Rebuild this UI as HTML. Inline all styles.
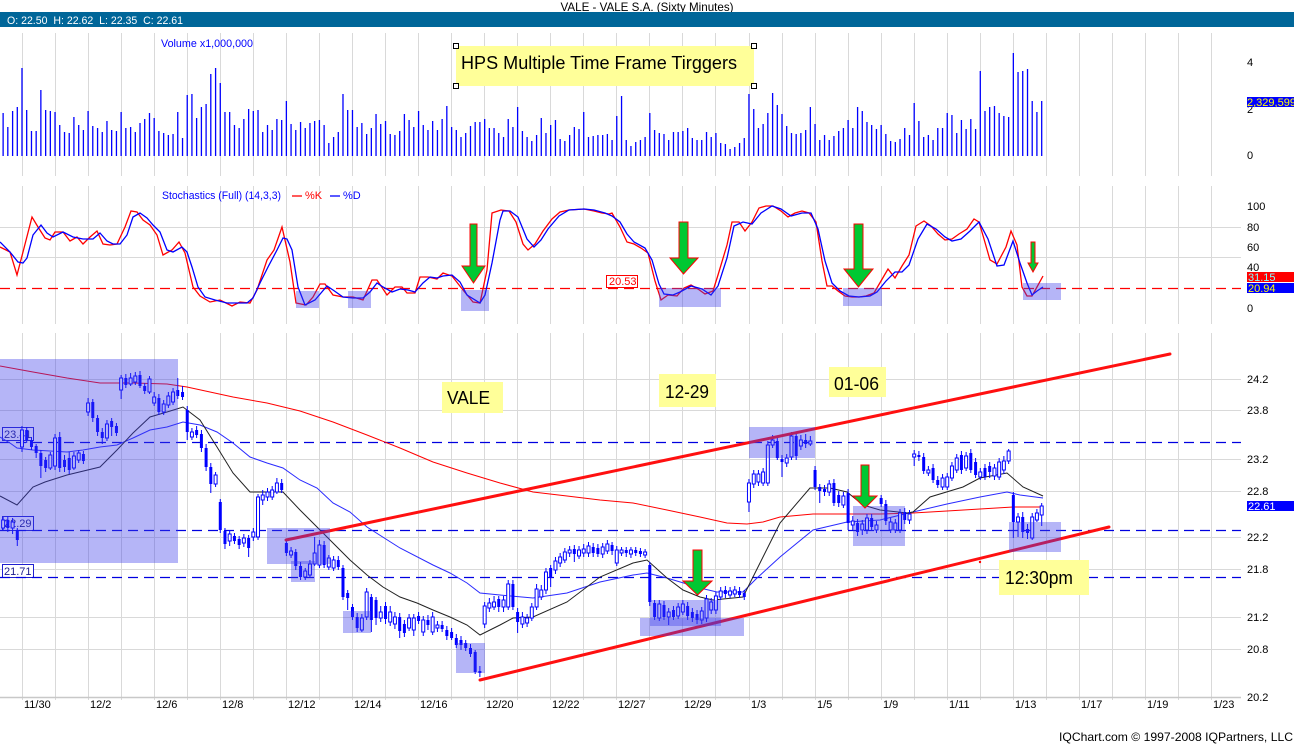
<!DOCTYPE html>
<html><head><meta charset="utf-8"><style>html,body{margin:0;padding:0;background:#fff}svg{display:block}</style></head>
<body>
<svg width="1294" height="744" viewBox="0 0 1294 744" xmlns="http://www.w3.org/2000/svg" font-family="'Liberation Sans', Arial, sans-serif">
<rect width="1294" height="744" fill="#fff"/>
<!-- header -->
<text x="647" y="11" font-size="12" text-anchor="middle" fill="#000" textLength="173" lengthAdjust="spacingAndGlyphs">VALE - VALE S.A. (Sixty Minutes)</text>
<rect x="0" y="12" width="1294" height="15" fill="#006699"/>
<text x="7" y="24" font-size="11" fill="#fff" xml:space="preserve" textLength="176" lengthAdjust="spacingAndGlyphs">O: 22.50  H: 22.62  L: 22.35  C: 22.61</text>

<!-- vertical gridlines -->
<path stroke="#d9d9d9" stroke-width="1" fill="none" d="M22.5 33V700M55.5 33V700M88.5 33V700M121.5 33V700M154.5 33V700M187.5 33V700M220.5 33V700M253.5 33V700M286.5 33V700M319.5 33V700M352.5 33V700M385.5 33V700M418.5 33V700M451.5 33V700M484.5 33V700M517.5 33V700M550.5 33V700M583.5 33V700M616.5 33V700M649.5 33V700M682.5 33V700M715.5 33V700M749.5 33V700M782.5 33V700M815.5 33V700M848.5 33V700M881.5 33V700M914.5 33V700M947.5 33V700M980.5 33V700M1013.5 33V700M1046.5 33V700M1079.5 33V700M1112.5 33V700M1145.5 33V700M1178.5 33V700M1211.5 33V700"/>
<rect x="0" y="176" width="1242" height="10" fill="#fff"/>
<rect x="0" y="324" width="1242" height="9" fill="#fff"/>
<!-- horizontal gridlines -->
<path stroke="#d9d9d9" stroke-width="1" fill="none" d="M0 227.5H1241M0 257.5H1241M0 379.5H1241M0 410.5H1241M0 459.5H1241M0 491.5H1241M0 537.5H1241M0 569.5H1241M0 617.5H1241M0 649.5H1241"/>
<path stroke="#c8c8c8" stroke-width="1.5" d="M0 697.5H1241"/>

<!-- left labels -->
<g font-size="11" fill="#1a1a8c">
<rect x="2.5" y="427.5" width="31" height="13" fill="#fff" stroke="#2020d0"/>
<text x="4" y="438">23.41</text>
<rect x="2.5" y="516.5" width="31" height="14" fill="#fff" stroke="#2020d0"/>
<text x="4" y="527">22.29</text>
<rect x="2.5" y="564.5" width="31" height="13" fill="#fff" stroke="#2020d0"/>
<text x="4" y="575">21.71</text>
</g>

<!-- dashed lines -->
<path stroke="#0000e0" stroke-width="1.2" stroke-dasharray="10 6" fill="none" d="M0 442.5H1241M0 530.5H1241M0 577.5H1241"/>
<path stroke="#ff0000" stroke-width="1.2" stroke-dasharray="10 6" fill="none" d="M0 288.5H1241"/>

<!-- moving averages -->
<polyline fill="none" stroke="#ff0000" stroke-width="1" points="0,366 33,372 67,378 100,383 133,383 167,384 187,387 233,397 267,403 300,411 333,422 367,435 400,448 433,462 467,473 500,483 533,492 567,496 600,500 633,503 667,510 700,517 727,523 747,524 763,522 780,517 813,514 880,514 913,513 947,511 980,509 1013,507 1043,507"/>
<polyline fill="none" stroke="#2a2aff" stroke-width="1" points="0,437 10,443 17,448 33,450 67,452 83,450 100,447 117,445 133,438 150,430 167,427 183,422 200,425 217,432 233,443 250,457 267,463 283,468 300,480 317,488 333,503 350,512 367,527 400,548 433,565 450,573 467,583 480,593 500,595 533,598 567,593 600,582 633,575 647,573 667,578 700,588 717,592 743,592 757,578 780,557 813,530 847,522 880,520 913,512 947,504 980,497 1007,492 1020,495 1043,498"/>
<polyline fill="none" stroke="#222" stroke-width="1" points="0,496 17,505 33,487 45,482 67,475 100,467 117,450 133,433 150,417 167,412 183,407 200,420 217,447 233,473 250,492 283,492 300,510 317,527 333,543 350,560 367,575 383,587 400,597 417,603 433,610 450,617 467,625 480,635 500,625 513,618 533,617 567,602 600,577 633,563 647,560 667,578 683,590 700,597 713,600 743,597 760,563 780,523 810,488 830,488 847,492 863,505 880,510 907,513 913,512 930,497 963,487 980,478 1007,473 1023,487 1043,496"/>

<!-- candles -->
<g transform="matrix(0.99844 0 0 1 -0.175 0)">
<path stroke="#0000ff" stroke-width="1" fill="none" d="M3.3 517V530M8 516V532M12.8 518V534M17.5 528V546M22.2 426V452M26.9 427V443M31.7 437V450M36.4 444V458M41.1 450V478M45.9 457V472M50.6 452V470M55.3 434V470M60 432V472M64.8 455V472M69.5 452V474M74.2 452V470M79 450V463M83.7 451V464M88.4 398V416M93.1 399V422M97.9 415V436M102.6 428V444M107.3 420V441M112 418V436M116.8 423V436M121.5 375V399M126.2 374V388M131 373V386M135.7 372V385M140.4 371V388M145.1 383V394M149.9 376V394M154.6 392V406M159.3 394V415M164.1 400V415M168.8 392V408M173.5 388V405M178.2 378V399M183 386V400M187.7 406V440M192.4 428V440M197.1 426V438M201.9 430V452M206.6 444V471M211.3 463V493M216.1 472V487M220.8 499V533M225.5 528V549M230.2 530V546M235 533V544M239.7 536V549M244.4 534V547M249.2 535V557M253.9 528V541M258.6 494V540M263.3 490V505M268.1 488V501M272.8 486V500M277.5 478V494M282.3 479V493M287 540V556M291.7 547V558M296.4 549V570M301.2 562V580M305.9 568V580M310.6 560V577M315.3 537V566M320.1 540V568M324.8 541V568M329.5 555V570M334.3 556V571M339 556V570M343.7 565V600M348.4 590V610M353.2 604V620M357.9 613V632M362.6 614V632M367.4 588V620M372.1 594V632M376.8 597V625M381.5 606V622M386.3 602V624M391 606V626M395.7 612V629M400.5 613V638M405.2 620V637M409.9 614V631M414.6 614V636M419.4 612V624M424.1 616V636M428.8 615V630M433.5 612V635M438.3 621V632M443 621V632M447.7 626V640M452.5 628V640M457.2 634V648M461.9 636V650M466.6 640V651M471.4 644V657M476.1 650V674M480.8 666V677M485.6 602V628M490.3 598V612M495 596V610M499.7 596V612M504.5 596V612M509.2 580V610M513.9 580V610M518.6 608V633M523.4 612V628M528.1 614V627M532.8 603V621M537.6 584V610M542.3 585V600M547 568V594M551.7 565V587M556.5 557V574M561.2 553V567M565.9 548V563M570.7 546V557M575.4 545V562M580.1 546V559M584.8 544V557M589.6 542V557M594.3 543V557M599 544V557M603.8 543V558M608.5 540V554M613.2 542V555M617.9 546V566M622.7 547V556M627.4 547V557M632.1 547V558M636.9 547V556M641.6 548V557M646.3 549V558M651 562V606M655.8 600V620M660.5 600V621M665.2 601V620M669.9 608V625M674.7 606V620M679.4 603V619M684.1 600V615M688.9 602V620M693.6 608V622M698.3 610V624M703 607V624M707.8 595V622M712.5 598V614M717.2 592V614M722 587V600M726.7 586V598M731.4 587V598M736.1 586V597M740.9 587V598M745.6 590V600M750.3 479V512M755.1 470V488M759.8 470V486M764.5 468V486M769.2 441V486M774 435V448M778.7 437V460M783.4 455V477M788.1 454V467M792.9 432V460M797.6 432V460M802.3 435V450M807.1 434V448M811.8 436V446M816.5 466V490M821.2 484V503M826 485V496M830.7 480V496M835.4 479V506M840.2 491V507M844.9 492V508M849.6 489V530M854.3 516V530M859.1 519V536M863.8 520V535M868.5 514V534M873.2 514V531M878 521V533M882.7 495V507M887.4 500V525M892.2 518V533M896.9 519V533M901.6 509V533M906.3 508V524M911.1 510V524M915.8 450V466M920.5 451V461M925.3 453V474M930 466V476M934.7 464V483M939.4 476V488M944.2 474V490M948.9 473V490M953.6 462V481M958.4 454V473M963.1 451V474M967.8 452V471M972.5 449V473M977.3 458V478M982 468V480M986.7 464V480M991.4 462V478M996.2 464V480M1000.9 458V480M1005.6 456V474M1010.4 449V464M1015.1 492V538M1019.8 513V537M1024.5 512V538M1029.3 524V539M1034 513V540M1038.7 509V522M1043.5 503V526"/>
<path fill="#0000ff" d="M6.5 520h3v8h-3zM16 530h3v10h-3zM25.4 430h3v10h-3zM30.2 440h3v7h-3zM34.9 446h3v7h-3zM39.6 453h3v13h-3zM44.4 460h3v8h-3zM58.5 437h3v31h-3zM63.3 460h3v7h-3zM68 458h3v12h-3zM82.2 454h3v7h-3zM91.6 402h3v16h-3zM96.4 418h3v14h-3zM101.1 432h3v6h-3zM110.5 421h3v6h-3zM115.3 426h3v7h-3zM124.7 378h3v7h-3zM138.9 375h3v11h-3zM143.6 386h3v5h-3zM157.8 398h3v14h-3zM176.7 390h3v6h-3zM181.5 392h3v5h-3zM186.2 410h3v22h-3zM195.6 430h3v5h-3zM200.4 434h3v14h-3zM205.1 448h3v19h-3zM209.8 467h3v17h-3zM219.3 502h3v28h-3zM224 531h3v13h-3zM233.5 536h3v5h-3zM238.2 539h3v6h-3zM247.7 538h3v10h-3zM280.8 483h3v7h-3zM285.5 543h3v10h-3zM294.9 552h3v14h-3zM299.7 566h3v11h-3zM323.3 545h3v20h-3zM337.5 560h3v7h-3zM342.2 568h3v29h-3zM346.9 593h3v5h-3zM351.7 607h3v10h-3zM356.4 617h3v11h-3zM370.6 597h3v23h-3zM375.3 600h3v18h-3zM384.8 606h3v13h-3zM399 617h3v14h-3zM403.7 624h3v9h-3zM417.9 616h3v5h-3zM427.3 620h3v5h-3zM441.5 625h3v4h-3zM446.2 630h3v6h-3zM451 632h3v6h-3zM455.7 638h3v7h-3zM460.4 640h3v5h-3zM465.1 643h3v5h-3zM469.9 648h3v6h-3zM474.6 652h3v20h-3zM479.3 671h3v2h-3zM498.2 599h3v8h-3zM512.4 584h3v23h-3zM517.1 612h3v10h-3zM550.2 568h3v10h-3zM573.9 549h3v5h-3zM592.8 547h3v6h-3zM597.5 548h3v6h-3zM611.7 545h3v6h-3zM625.9 550h3v3h-3zM635.4 550h3v3h-3zM640.1 551h3v3h-3zM649.5 565h3v37h-3zM654.3 603h3v14h-3zM663.7 605h3v12h-3zM673.2 610h3v7h-3zM687.4 606h3v10h-3zM692.1 612h3v6h-3zM696.8 614h3v6h-3zM725.2 590h3v4h-3zM739.4 591h3v4h-3zM744.1 593h3v4h-3zM777.2 441h3v17h-3zM781.9 459h3v3h-3zM796.1 436h3v20h-3zM805.6 440h3v4h-3zM815 470h3v17h-3zM819.7 487h3v4h-3zM824.5 489h3v3h-3zM833.9 483h3v20h-3zM838.7 495h3v8h-3zM848.1 493h3v30h-3zM857.6 523h3v9h-3zM871.7 518h3v9h-3zM881.2 498h3v6h-3zM885.9 504h3v17h-3zM904.8 512h3v8h-3zM919 455h3v2h-3zM923.8 457h3v14h-3zM933.2 468h3v12h-3zM937.9 480h3v5h-3zM961.6 455h3v15h-3zM971 453h3v17h-3zM975.8 462h3v13h-3zM985.2 468h3v9h-3zM989.9 466h3v6h-3zM1013.6 495h3v27h-3zM1023 517h3v15h-3zM1027.8 529h3v4h-3z"/>
<path fill="#fff" stroke="#0000ff" stroke-width="1" d="M1.8 520h3v8h-3zM11.3 522h3v6h-3zM20.7 430h3v17h-3zM49.1 455h3v13h-3zM53.8 438h3v28h-3zM72.7 456h3v12h-3zM77.5 453h3v7h-3zM86.9 403h3v9h-3zM105.8 424h3v14h-3zM120 378h3v12h-3zM129.5 378h3v6h-3zM134.2 376h3v6h-3zM148.4 379h3v13h-3zM153.1 397h3v6h-3zM162.6 404h3v8h-3zM167.3 396h3v9h-3zM172 392h3v10h-3zM190.9 432h3v5h-3zM214.6 475h3v9h-3zM228.7 534h3v7h-3zM242.9 538h3v5h-3zM252.4 532h3v5h-3zM257.1 497h3v40h-3zM261.8 495h3v5h-3zM266.6 492h3v5h-3zM271.3 490h3v7h-3zM276 483h3v9h-3zM290.2 551h3v4h-3zM304.4 571h3v6h-3zM309.1 564h3v11h-3zM313.8 553h3v11h-3zM318.6 545h3v20h-3zM328 558h3v9h-3zM332.8 560h3v8h-3zM361.1 618h3v12h-3zM365.9 592h3v25h-3zM380 612h3v6h-3zM389.5 612h3v10h-3zM394.2 617h3v7h-3zM408.4 618h3v10h-3zM413.1 618h3v12h-3zM422.6 620h3v12h-3zM432 617h3v15h-3zM436.8 625h3v3h-3zM484.1 606h3v18h-3zM488.8 603h3v5h-3zM493.5 602h3v5h-3zM503 600h3v7h-3zM507.7 584h3v23h-3zM521.9 617h3v7h-3zM526.6 618h3v5h-3zM531.3 607h3v11h-3zM536.1 589h3v18h-3zM540.8 590h3v7h-3zM545.5 572h3v18h-3zM555 561h3v9h-3zM559.7 557h3v6h-3zM564.4 552h3v8h-3zM569.2 550h3v3h-3zM578.6 550h3v6h-3zM583.3 549h3v4h-3zM588.1 546h3v7h-3zM602.3 547h3v7h-3zM607 544h3v7h-3zM616.4 550h3v13h-3zM621.2 550h3v3h-3zM630.6 550h3v4h-3zM644.8 552h3v3h-3zM659 604h3v14h-3zM668.4 612h3v5h-3zM677.9 607h3v9h-3zM682.6 604h3v8h-3zM701.5 611h3v9h-3zM706.3 599h3v19h-3zM711 602h3v8h-3zM715.7 596h3v14h-3zM720.5 591h3v6h-3zM729.9 591h3v4h-3zM734.6 590h3v4h-3zM748.8 483h3v19h-3zM753.6 474h3v10h-3zM758.3 474h3v8h-3zM763 472h3v11h-3zM767.7 445h3v38h-3zM772.5 440h3v5h-3zM786.6 458h3v5h-3zM791.4 436h3v21h-3zM800.8 440h3v6h-3zM810.3 441h3v3h-3zM829.2 484h3v8h-3zM843.4 496h3v9h-3zM852.8 521h3v4h-3zM862.3 524h3v6h-3zM867 518h3v12h-3zM876.5 525h3v5h-3zM890.7 522h3v8h-3zM895.4 523h3v7h-3zM900.1 513h3v17h-3zM909.6 514h3v6h-3zM914.3 454h3v3h-3zM928.5 470h3v3h-3zM942.7 478h3v9h-3zM947.4 477h3v10h-3zM952.1 466h3v12h-3zM956.9 458h3v12h-3zM966.3 456h3v12h-3zM980.5 472h3v5h-3zM994.7 468h3v8h-3zM999.4 462h3v15h-3zM1004.1 461h3v9h-3zM1008.9 451h3v10h-3zM1018.3 517h3v5h-3zM1032.5 517h3v21h-3zM1037.2 513h3v7h-3zM1042 506h3v9h-3z"/>
</g>

<!-- trend lines -->
<path stroke="#ff1010" stroke-width="3" fill="none" stroke-linecap="round" d="M286 540L1170 354M480 680L1109 527"/>
<circle cx="980" cy="562" r="1.2" fill="#ff0000"/>

<!-- price highlight boxes -->
<g fill="rgb(60,60,235)" fill-opacity="0.38">
<rect x="0" y="359" width="178" height="204"/>
<rect x="267" y="528" width="63" height="36"/>
<rect x="291" y="561" width="24" height="21"/>
<rect x="343" y="611" width="28" height="22"/>
<rect x="456" y="643" width="29" height="30"/>
<rect x="640" y="618" width="104" height="18"/>
<rect x="650" y="600" width="71" height="26"/>
<rect x="749" y="427" width="66" height="31"/>
<rect x="853" y="506" width="52" height="40"/>
<rect x="1009" y="522" width="52" height="30"/>
</g>

<!-- volume -->
<text x="161" y="47" font-size="11" fill="#0000ff" textLength="92" lengthAdjust="spacingAndGlyphs">Volume x1,000,000</text>
<g transform="matrix(0.99844 0 0 1 -0.175 0)">
<path stroke="#0000ff" stroke-width="1.3" fill="none" d="M3.3 156V113M8 156V127M12.8 156V111M17.5 156V107M22.2 156V68M26.9 156V110M31.7 156V131M36.4 156V131M41.1 156V90M45.9 156V110M50.6 156V111M55.3 156V112M60 156V125M64.8 156V132M69.5 156V133M74.2 156V117M79 156V125M83.7 156V130M88.4 156V111M93.1 156V126M97.9 156V128M102.6 156V132M107.3 156V121M112 156V130M116.8 156V131M121.5 156V112M126.2 156V128M131 156V127M135.7 156V132M140.4 156V123M145.1 156V119M149.9 156V113M154.6 156V118M159.3 156V131M164.1 156V133M168.8 156V135M173.5 156V134M178.2 156V112M183 156V138M187.7 156V95M192.4 156V94M197.1 156V118M201.9 156V107M206.6 156V104M211.3 156V74M216.1 156V68M220.8 156V83M225.5 156V112M230.2 156V112M235 156V125M239.7 156V128M244.4 156V119M249.2 156V109M253.9 156V111M258.6 156V110M263.3 156V132M268.1 156V125M272.8 156V130M277.5 156V119M282.3 156V120M287 156V101M291.7 156V124M296.4 156V130M301.2 156V122M305.9 156V128M310.6 156V123M315.3 156V121M320.1 156V120M324.8 156V125M329.5 156V143M334.3 156V137M339 156V132M343.7 156V94M348.4 156V110M353.2 156V110M357.9 156V127M362.6 156V123M367.4 156V134M372.1 156V128M376.8 156V114M381.5 156V124M386.3 156V121M391 156V134M395.7 156V135M400.5 156V131M405.2 156V114M409.9 156V120M414.6 156V127M419.4 156V111M424.1 156V125M428.8 156V130M433.5 156V121M438.3 156V130M443 156V119M447.7 156V106M452.5 156V127M457.2 156V130M461.9 156V137M466.6 156V133M471.4 156V126M476.1 156V122M480.8 156V122M485.6 156V119M490.3 156V128M495 156V128M499.7 156V133M504.5 156V137M509.2 156V119M513.9 156V127M518.6 156V107M523.4 156V131M528.1 156V137M532.8 156V141M537.6 156V135M542.3 156V118M547 156V133M551.7 156V125M556.5 156V120M561.2 156V139M565.9 156V141M570.7 156V135M575.4 156V127M580.1 156V129M584.8 156V112M589.6 156V137M594.3 156V136M599 156V135M603.8 156V135M608.5 156V134M613.2 156V140M617.9 156V116M622.7 156V96M627.4 156V140M632.1 156V146M636.9 156V142M641.6 156V140M646.3 156V137M651 156V113M655.8 156V130M660.5 156V133M665.2 156V134M669.9 156V140M674.7 156V132M679.4 156V132M684.1 156V131M688.9 156V128M693.6 156V138M698.3 156V140M703 156V140M707.8 156V132M712.5 156V137M717.2 156V133M722 156V143M726.7 156V144M731.4 156V149M736.1 156V147M740.9 156V143M745.6 156V138M750.3 156V94M755.1 156V109M759.8 156V128M764.5 156V124M769.2 156V113M774 156V93M778.7 156V105M783.4 156V114M788.1 156V126M792.9 156V133M797.6 156V134M802.3 156V133M807.1 156V130M811.8 156V107M816.5 156V124M821.2 156V140M826 156V135M830.7 156V140M835.4 156V136M840.2 156V131M844.9 156V128M849.6 156V120M854.3 156V128M859.1 156V107M863.8 156V111M868.5 156V122M873.2 156V125M878 156V129M882.7 156V125M887.4 156V134M892.2 156V141M896.9 156V142M901.6 156V139M906.3 156V128M911.1 156V135M915.8 156V103M920.5 156V121M925.3 156V137M930 156V135M934.7 156V140M939.4 156V128M944.2 156V128M948.9 156V113M953.6 156V115M958.4 156V133M963.1 156V120M967.8 156V129M972.5 156V119M977.3 156V129M982 156V71M986.7 156V111M991.4 156V107M996.2 156V106M1000.9 156V113M1005.6 156V116M1010.4 156V117M1015.1 156V53M1019.8 156V72M1024.5 156V71M1029.3 156V69M1034 156V101M1038.7 156V112M1043.5 156V101"/>
</g>

<!-- stochastics -->
<text x="162" y="199" font-size="11" fill="#0000ff" textLength="119" lengthAdjust="spacingAndGlyphs">Stochastics (Full) (14,3,3)</text>
<path stroke="#ff0000" stroke-width="1.3" d="M292 196H302"/>
<text x="305" y="199" font-size="11" fill="#ff0000">%K</text>
<path stroke="#0000ff" stroke-width="1.3" d="M330 196H340"/>
<text x="343" y="199" font-size="11" fill="#0000ff">%D</text>

<polyline fill="none" stroke="#ff0000" stroke-width="1.3" points="0,247 10,252 17,275 23,252 32,217 38,227 45,238 50,240 55,232 63,232 70,241 77,237 83,244 90,237 97,231 103,244 110,245 117,244 125,227 131,211 137,212 143,220 150,225 157,235 163,255 172,250 179,242 185,253 193,287 200,296 210,302 220,300 232,306 240,302 250,303 257,290 267,260 274,250 282,227 290,262 296,303 306,305 313,297 320,284 325,284 333,295 343,297 353,297 363,300 372,280 377,280 387,295 395,287 402,287 407,293 415,293 420,277 428,277 437,279 443,273 452,276 463,290 473,302 480,303 487,270 492,213 501,210 509,211 516,222 523,244 528,250 535,244 543,231 552,219 560,212 569,210 584,209 594,211 602,213 609,214 612,213 620,227 627,242 634,244 641,248 648,253 655,281 661,300 668,295 677,296 684,288 691,285 698,289 705,294 713,291 718,275 727,245 732,222 739,222 745,231 752,222 759,208 766,206 773,206 781,211 788,217 795,213 802,211 809,213 816,222 822,261 827,286 832,286 838,291 845,296 852,297 859,297 866,296 874,293 881,281 888,269 895,278 902,266 909,255 916,226 924,221 931,226 938,234 945,240 952,239 959,234 967,229 974,219 979,222 984,239 990,260 997,264 1006,247 1011,231 1017,245 1022,287 1027,296 1032,296 1037,287 1043,276"/>
<polyline fill="none" stroke="#0000ff" stroke-width="1.3" points="0,242 10,252 18,262 23,263 27,258 33,235 41,225 47,233 53,237 63,232 73,237 83,239 93,239 100,233 107,241 113,244 120,244 127,235 133,217 140,213 147,218 153,225 160,232 167,250 173,252 182,247 187,252 192,267 198,287 205,297 215,300 227,303 233,303 247,303 253,298 260,283 268,267 277,250 283,238 287,239 292,250 298,287 305,305 315,300 327,286 333,290 343,297 353,298 363,298 370,292 377,283 383,287 392,292 400,289 408,290 415,292 423,283 430,277 437,278 443,276 452,275 460,282 467,295 480,303 485,295 492,263 500,220 503,211 510,211 518,217 527,239 534,247 541,240 548,229 559,216 569,210 584,209 594,210 605,213 612,216 620,222 627,234 634,242 645,248 652,260 659,284 664,294 673,295 680,292 691,286 702,289 711,295 718,286 727,258 734,226 743,222 752,224 761,213 772,206 781,209 791,216 802,213 811,213 818,229 825,261 832,283 840,291 849,296 859,297 870,296 877,292 886,281 895,272 902,272 909,265 918,239 927,224 936,229 945,237 952,241 961,239 970,231 979,222 988,239 997,266 1004,265 1013,241 1020,263 1027,283 1032,295 1037,291 1043,287"/>

<g fill="rgb(60,60,235)" fill-opacity="0.38">
<rect x="296" y="291" width="23" height="17"/>
<rect x="348" y="291" width="23" height="17"/>
<rect x="461" y="290" width="28" height="21"/>
<rect x="659" y="288" width="62" height="19"/>
<rect x="843" y="288" width="39" height="18"/>
<rect x="1023" y="283" width="38" height="17"/>
</g>

<rect x="606.5" y="275.5" width="31" height="12" fill="#fff" stroke="#ff0000"/>
<text x="609" y="285" font-size="11" fill="#ff0000">20.53</text>

<!-- green arrows -->
<g fill="#00c832" stroke="#ff0000" stroke-width="1">
<path d="M470 224H477V266H485L473.5 283L462 266H470Z"/>
<path d="M679 222H688V258H698L683.5 274L670 258H679Z"/>
<path d="M854 224H863V269H873L858.5 287L844 269H854Z"/>
<path d="M1031 242H1035V263H1038L1033 272L1028 263H1031Z"/>
<path d="M693 550H702V581H712L697.5 595L683 581H693Z"/>
<path d="M861 465H869V496H877L865 508L853 496H861Z"/>
</g>

<!-- annotations -->
<rect x="456" y="46" width="298" height="40" fill="#ffff99"/>
<text x="461" y="69" font-size="18" fill="#000" textLength="276" lengthAdjust="spacingAndGlyphs">HPS Multiple Time Frame Tirggers</text>
<g fill="#fff" stroke="#000" stroke-width="1">
<rect x="453.5" y="43.5" width="5" height="5"/>
<rect x="751.5" y="43.5" width="5" height="5"/>
<rect x="453.5" y="83.5" width="5" height="5"/>
<rect x="751.5" y="83.5" width="5" height="5"/>
</g>
<rect x="442" y="382" width="61" height="31" fill="#ffff99"/>
<text x="447" y="404" font-size="18" fill="#000" textLength="43" lengthAdjust="spacingAndGlyphs">VALE</text>
<rect x="659" y="374" width="57" height="33" fill="#ffff99"/>
<text x="665" y="398" font-size="18" fill="#000" textLength="44" lengthAdjust="spacingAndGlyphs">12-29</text>
<rect x="829" y="367" width="57" height="30" fill="#ffff99"/>
<text x="834" y="390" font-size="18" fill="#000" textLength="45" lengthAdjust="spacingAndGlyphs">01-06</text>
<rect x="999" y="560" width="90" height="35" fill="#ffff99"/>
<text x="1005" y="584" font-size="18" fill="#000" textLength="68" lengthAdjust="spacingAndGlyphs">12:30pm</text>

<!-- right axis -->
<g font-size="11" fill="#000">
<text x="1247" y="66">4</text>
<text x="1247" y="113">2</text>
<text x="1247" y="159">0</text>
<text x="1247" y="210">100</text>
<text x="1247" y="231">80</text>
<text x="1247" y="251">60</text>
<text x="1247" y="271">40</text>
<text x="1247" y="312">0</text>
<text x="1247" y="383">24.2</text>
<text x="1247" y="414">23.8</text>
<text x="1247" y="463">23.2</text>
<text x="1247" y="495">22.8</text>
<text x="1247" y="541">22.2</text>
<text x="1247" y="573">21.8</text>
<text x="1247" y="621">21.2</text>
<text x="1247" y="653">20.8</text>
<text x="1247" y="701">20.2</text>
</g>
<rect x="1247" y="97" width="47" height="10" fill="#0000ff"/>
<text x="1247" y="106" font-size="11" fill="#ffff00">2,329,599</text>
<rect x="1247" y="272" width="47" height="10" fill="#ff0000"/>
<text x="1248" y="281" font-size="11" fill="#80ffff">31.15</text>
<rect x="1247" y="283" width="47" height="10" fill="#0000ff"/>
<text x="1248" y="292" font-size="11" fill="#ffff00">20.94</text>
<rect x="1247" y="501" width="47" height="10" fill="#0000ff"/>
<text x="1248" y="510" font-size="11" fill="#fff">22.61</text>

<!-- x axis labels -->
<g font-size="11" fill="#000">
<text x="24" y="708">11/30</text>
<text x="90" y="708">12/2</text>
<text x="156" y="708">12/6</text>
<text x="222" y="708">12/8</text>
<text x="288" y="708">12/12</text>
<text x="354" y="708">12/14</text>
<text x="420" y="708">12/16</text>
<text x="486" y="708">12/20</text>
<text x="552" y="708">12/22</text>
<text x="618" y="708">12/27</text>
<text x="684" y="708">12/29</text>
<text x="751" y="708">1/3</text>
<text x="817" y="708">1/5</text>
<text x="883" y="708">1/9</text>
<text x="949" y="708">1/11</text>
<text x="1015" y="708">1/13</text>
<text x="1081" y="708">1/17</text>
<text x="1147" y="708">1/19</text>
<text x="1213" y="708">1/23</text>
</g>
<text x="1059" y="741" font-size="12" fill="#000" textLength="234" lengthAdjust="spacingAndGlyphs">IQChart.com © 1997-2008 IQPartners, LLC</text>
</svg>
</body></html>
